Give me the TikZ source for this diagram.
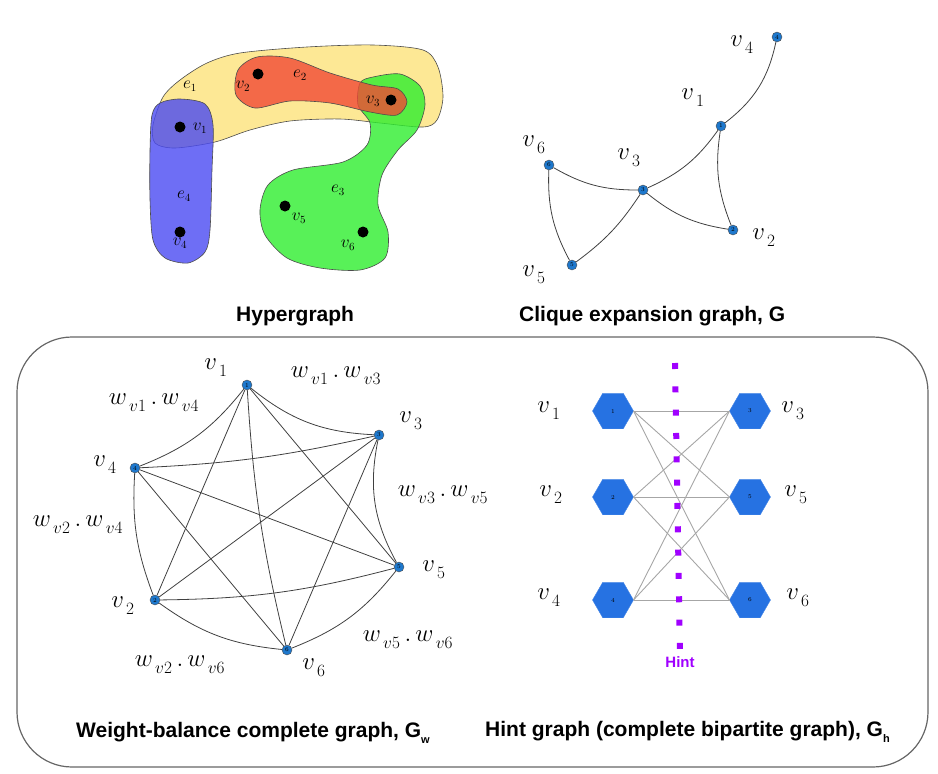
\documentclass[tikz,border=0pt]{standalone}
\usepackage{fontspec}
\newfontfamily\capfont{Liberation Sans}
\usetikzlibrary{shapes.geometric}

\definecolor{nodeblue}{RGB}{30,120,205}
\definecolor{hexblue}{RGB}{38,114,226}
\definecolor{hintpurple}{RGB}{160,0,255}
\definecolor{eyellow}{RGB}{253,226,122}
\definecolor{ered}{RGB}{240,74,54}
\definecolor{egreen}{RGB}{46,238,46}
\definecolor{eblue}{RGB}{74,74,242}

\newcommand{\vv}[1]{$v_{\,\lower3pt\hbox{$\scriptstyle #1$}}$}
\newcommand{\ww}[2]{$w_{\,\lower3pt\hbox{$\scriptstyle v#1$}}\,.\,w_{\,\lower3pt\hbox{$\scriptstyle v#2$}}$}

\begin{document}
\begin{tikzpicture}[x=1pt, y=1pt,
    dot/.style={circle, fill=black, inner sep=0pt, minimum size=11pt},
    hlab/.style={font=\fontsize{16}{18}\selectfont, inner sep=1pt},
    blob/.style={draw=black!70, line width=0.6pt, fill opacity=0.8},
    vnode/.style={circle, draw=black!70, line width=0.4pt, fill=nodeblue, inner sep=0pt, minimum size=10pt, font=\fontsize{6}{6}\selectfont},
    vlab/.style={font=\fontsize{26}{30}\selectfont},
    wlab/.style={font=\fontsize{23}{26}\selectfont},
    edge/.style={draw=black!75, line width=0.8pt},
    hex/.style={regular polygon, regular polygon sides=6, fill=hexblue, draw=hexblue!85!white, minimum size=41pt, inner sep=0pt, outer sep=0pt, font=\fontsize{6}{6}\selectfont},
    bip/.style={draw=black!35, line width=0.9pt},
    caption/.style={font=\capfont\bfseries\fontsize{21}{25}\selectfont, inner sep=0pt, anchor=base west},
  ]
    \useasboundingbox (0,0) rectangle (938,-774);

    % Hypergraph
    \draw[blob, fill=eyellow] plot[smooth cycle] coordinates {(153,-125) (163,-97) (180,-80) (207,-63) (240,-53) (307,-47) (373,-45) (423,-50) (438,-67) (443,-97) (437,-120) (423,-127) (380,-123) (340,-119) (290,-121) (250,-130) (215,-142) (175,-148) (155,-143)};
    \draw[blob, fill=egreen] plot[smooth cycle] coordinates {(360,-83) (373,-77) (400,-74) (420,-86) (425,-105) (417,-130) (398,-150) (382,-175) (378,-205) (388,-232) (385,-258) (360,-270) (320,-268) (287,-258) (265,-235) (260,-210) (268,-185) (293,-170) (343,-162) (367,-145) (370,-123) (358,-105)};
    \draw[blob, fill=ered] plot[smooth cycle] coordinates {(236,-95) (238,-70) (257,-57) (290,-58) (330,-73) (372,-85) (398,-89) (407,-102) (397,-115) (370,-112) (330,-103) (290,-101) (255,-108)};
    \draw[blob, fill=eblue] plot[smooth cycle] coordinates {(152,-115) (160,-103) (180,-99) (205,-104) (213,-125) (212,-170) (210,-230) (205,-252) (188,-263) (165,-258) (153,-240) (150,-200) (150,-150)};

    \node[dot] (h1) at (180,-127) {};
    \node[dot] (h2) at (258,-74) {};
    \node[dot] (h3) at (391,-100) {};
    \node[dot] (h4) at (180,-232) {};
    \node[dot] (h5) at (285,-206) {};
    \node[dot] (h6) at (363,-232) {};
    \node[hlab] (hv1) at (200,-128) {$v_1$};
    \node[hlab] (hv2) at (243,-86) {$v_2$};
    \node[hlab] (hv3) at (373,-101) {$v_3$};
    \node[hlab] (hv4) at (180,-243) {$v_4$};
    \node[hlab] (hv5) at (299,-218) {$v_5$};
    \node[hlab] (hv6) at (348,-245) {$v_6$};
    \node[hlab] (he1) at (190,-86) {$e_1$};
    \node[hlab] (he2) at (300,-75) {$e_2$};
    \node[hlab] (he3) at (338,-190) {$e_3$};
    \node[hlab] (he4) at (184,-196) {$e_4$};

    % Clique expansion graph
    \node[vnode] (c4) at (777,-37) {4};
    \node[vnode] (c1) at (721,-126) {1};
    \node[vnode] (c6) at (549,-165) {6};
    \node[vnode] (c3) at (643,-190) {3};
    \node[vnode] (c2) at (733,-230) {2};
    \node[vnode] (c5) at (572,-265) {5};
    \draw[edge] (c4) to[bend left=20] (c1);
    \draw[edge] (c1) to[bend left=15] (c3);
    \draw[edge] (c1) to[bend right=15] (c2);
    \draw[edge] (c3) to[bend right=15] (c2);
    \draw[edge] (c3) to[bend left=15] (c6);
    \draw[edge] (c3) to[bend left=10] (c5);
    \draw[edge] (c6) to[bend right=15] (c5);
    \node[vlab] (cv4) at (742,-45) {\vv{4}};
    \node[vlab] (cv1) at (693,-98) {\vv{1}};
    \node[vlab] (cv6) at (534,-145) {\vv{6}};
    \node[vlab] (cv3) at (629,-158) {\vv{3}};
    \node[vlab] (cv2) at (764,-238) {\vv{2}};
    \node[vlab] (cv5) at (534,-275) {\vv{5}};

    \node[caption] (cap1) at (236,-321) {Hypergraph};
    \node[caption] (cap2) at (519,-321) {Clique expansion graph, G};

    % Frame
    \draw[black!60, line width=1.2pt, rounded corners=55pt] (17,-337) rectangle (928,-767);

    % Weight-balance complete graph
    \node[vnode] (w1) at (247,-385) {1};
    \node[vnode] (w3) at (379,-435) {3};
    \node[vnode] (w4) at (135,-468) {4};
    \node[vnode] (w5) at (399,-567) {5};
    \node[vnode] (w2) at (155,-600) {2};
    \node[vnode] (w6) at (287,-650) {6};
    \draw[edge] (w1) to[bend right=18] (w3);
    \draw[edge] (w1) to[bend left=15] (w4);
    \draw[edge] (w4) to[bend right=12] (w2);
    \draw[edge] (w2) to[bend right=15] (w6);
    \draw[edge] (w6) to[bend right=15] (w5);
    \draw[edge] (w5) to[bend left=20] (w3);
    \draw[edge] (w4) to[bend right=5] (w3);
    \draw[edge] (w2) to[bend right=7] (w5);
    \draw[edge] (w1) to[bend right=5] (w6);
    \foreach \a/\b in {1/2,1/5,3/2,3/6,4/5,4/6}
      \draw[edge] (w\a) -- (w\b);
    \node[vlab] (wv1) at (216,-368) {\vv{1}};
    \node[vlab] (wv3) at (411,-421) {\vv{3}};
    \node[vlab] (wv4) at (105,-465) {\vv{4}};
    \node[vlab] (wv5) at (434,-570) {\vv{5}};
    \node[vlab] (wv2) at (123,-606) {\vv{2}};
    \node[vlab] (wv6) at (314,-668) {\vv{6}};
    \node[wlab] (w13) at (336,-376) {\ww{1}{3}};
    \node[wlab] (w14) at (154,-403) {\ww{1}{4}};
    \node[wlab] (w35) at (443,-495) {\ww{3}{5}};
    \node[wlab] (w24) at (78,-525) {\ww{2}{4}};
    \node[wlab] (w56) at (408,-640) {\ww{5}{6}};
    \node[wlab] (w26) at (180,-665) {\ww{2}{6}};

    % Hint graph
    \node[hex] (l1) at (613,-411) {1};
    \node[hex] (l2) at (613,-497) {2};
    \node[hex] (l4) at (613,-600) {4};
    \node[hex] (r3) at (750,-411) {3};
    \node[hex] (r5) at (750,-497) {5};
    \node[hex] (r6) at (750,-600) {6};
    \foreach \a in {1,2,4}
      \foreach \b in {3,5,6}
        \draw[bip] (l\a.east) -- (r\b.west);
    \node[vlab] (bv1) at (549,-411) {\vv{1}};
    \node[vlab] (bv2) at (551,-495) {\vv{2}};
    \node[vlab] (bv4) at (549,-598) {\vv{4}};
    \node[vlab] (bv3) at (793,-411) {\vv{3}};
    \node[vlab] (bv5) at (796,-495) {\vv{5}};
    \node[vlab] (bv6) at (798,-598) {\vv{6}};
    \coordinate (htop) at (675,-363);
    \node[font=\capfont\bfseries\fontsize{15}{18}\selectfont, text=hintpurple, inner sep=1pt] (hint) at (680,-662) {Hint};
    \draw[hintpurple, line width=6pt, dash pattern=on 6pt off 17.33pt] (htop) -- (hint.north);

    \node[caption] (cap3) at (76,-737) {Weight-balance complete graph, G\raisebox{-6pt}{\fontsize{11}{11}\selectfont w}};
    \node[caption] (cap4) at (485,-736) {Hint graph (complete bipartite graph), G\raisebox{-6pt}{\fontsize{11}{11}\selectfont h}};
  \end{tikzpicture}
\end{document}
